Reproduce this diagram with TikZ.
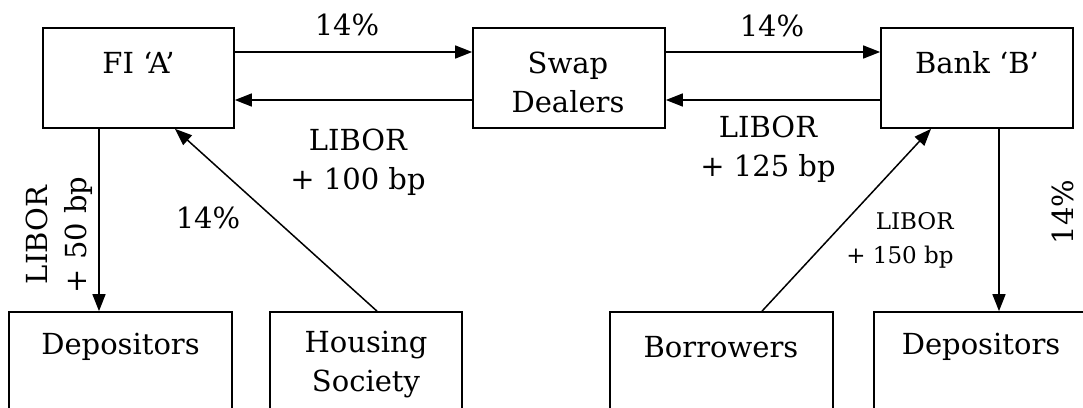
\documentclass[tikz,border=0pt]{standalone}
\usepackage{fontspec}
\setmainfont{DejaVu Serif}
\usetikzlibrary{arrows.meta,calc}
\tikzset{
  box/.style={draw, line width=1.7pt, rectangle, inner sep=0pt},
  txt/.style={font=\fontsize{29}{39}\selectfont, align=center, inner sep=0pt},
  smalltxt/.style={font=\fontsize{23}{34}\selectfont, align=right, inner sep=0pt},
  arr/.style={line width=1.5pt, -{Triangle[length=17pt,width=13pt]}}
}
\begin{document}
\begin{tikzpicture}[x=1pt,y=-1pt]
\useasboundingbox (0,0) rectangle (1083,407);
\clip (0,0) rectangle (1083,407);
% top boxes
\node[box, minimum width=191pt, minimum height=100pt] (fia) at (138.5,78) {};
\node[box, minimum width=192pt, minimum height=100pt] (swap) at (569,78) {};
\node[box, minimum width=192pt, minimum height=100pt] (bank) at (977,78) {};
\node[txt] (tfia) at (138.5,63) {FI ‘A’};
\node[txt] (tswap) at (568,82.5) {Swap\\Dealers};
\node[txt] (tbank) at (977,63) {Bank ‘B’};
% bottom boxes
\node[box, minimum width=223pt, minimum height=140pt] (dep1) at (120.5,382) {};
\node[box, minimum width=192pt, minimum height=140pt] (hs) at (366,382) {};
\node[box, minimum width=223pt, minimum height=140pt] (bor) at (721.5,382) {};
\node[box, minimum width=214pt, minimum height=140pt] (dep2) at (981,382) {};
\node[txt] (tdep1) at (120.5,347) {Depositors};
\node[txt] (ths) at (366,365) {Housing\\Society};
\node[txt] (tbor) at (721,347) {Borrowers};
\node[txt] (tdep2) at (981,347) {Depositors};
% horizontal arrows
\draw[arr] ([yshift=26pt]fia.east) -- ([yshift=26pt]swap.west);
\draw[arr] ([yshift=-22pt]swap.west) -- ([yshift=-22pt]fia.east);
\draw[arr] ([yshift=26pt]swap.east) -- ([yshift=26pt]bank.west);
\draw[arr] ([yshift=-22pt]bank.west) -- ([yshift=-22pt]swap.east);
% vertical arrows
\draw[arr] ([xshift=-39.5pt]fia.south) -- ([xshift=-39.5pt]fia.south |- dep1.north);
\draw[arr] ([xshift=22pt]bank.south) -- ([xshift=22pt]bank.south |- dep2.north);
% diagonal arrows
\draw[arr] ([xshift=11pt]hs.north) -- ([xshift=36.5pt]fia.south);
\draw[arr] ([xshift=40.5pt]bor.north) -- ([xshift=-46pt]bank.south);
% labels
\node[txt] (l1) at (347,25) {14\%};
\node[txt] (l2) at (772,26) {14\%};
\node[txt] (l3) at (358,162.5) {LIBOR\\+ 100 bp};
\node[txt] (l4) at (768,149.5) {LIBOR\\+ 125 bp};
\node[txt] (l5) at (208,218) {14\%};
\node[txt, rotate=90] (l6) at (59,235) {LIBOR\\+ 50 bp};
\node[txt, rotate=90] (l7) at (1063,212) {14\%};
\node[smalltxt] (l8) at (900,240) {LIBOR\\+ 150 bp};
\end{tikzpicture}
\end{document}
